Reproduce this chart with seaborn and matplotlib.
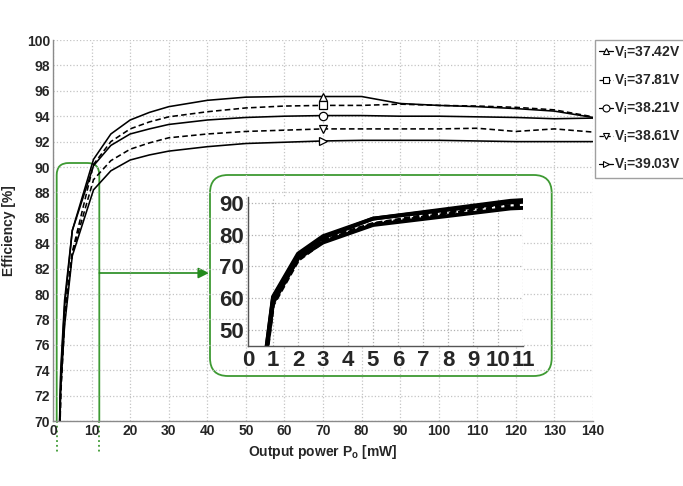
import numpy as np
import pandas as pd
import seaborn as sns
import matplotlib
matplotlib.use("Agg")
import matplotlib.pyplot as plt
from matplotlib.lines import Line2D
from matplotlib.patches import FancyBboxPatch, Rectangle

# ---------------- data ----------------
power_mw = [0.5, 1, 2, 3, 5, 10.5, 15, 20, 25, 30, 40, 50, 60, 70, 80, 90, 100, 110, 120, 130, 140]
eff_3742 = [30, 60.5, 74, 79.5, 85, 90.6, 92.6, 93.7, 94.3, 94.75, 95.25, 95.5, 95.55, 95.55, 95.55, 95.0, 94.85, 94.75, 94.6, 94.4, 93.9]
eff_3781 = [29, 59, 72.5, 78.5, 83.3, 90.2, 92.0, 93.0, 93.55, 93.95, 94.35, 94.65, 94.8, 94.85, 94.85, 94.95, 94.85, 94.8, 94.7, 94.5, 93.95]
eff_3821 = [30, 60, 73.5, 79, 85, 90.1, 91.7, 92.6, 93.0, 93.35, 93.7, 93.9, 94.0, 94.05, 94.05, 94.0, 94.0, 93.95, 93.9, 93.8, 93.85]
eff_3861 = [28, 58, 72, 77.8, 83.2, 89.0, 90.5, 91.4, 91.9, 92.3, 92.6, 92.8, 92.9, 93.0, 93.0, 93.0, 93.0, 93.05, 92.8, 93.0, 92.75]
eff_3903 = [29, 58.5, 72.5, 77.5, 83, 88.2, 89.7, 90.55, 90.95, 91.25, 91.6, 91.85, 91.95, 92.05, 92.1, 92.1, 92.1, 92.05, 92.0, 92.0, 92.0]
input_voltages = ["37.42", "37.81", "38.21", "38.61", "39.03"]
marker_power = 70
main_xticks = list(range(0, 141, 10))
main_yticks = list(range(70, 101, 2))
inset_xticks = list(range(0, 12))
inset_yticks = [50, 60, 70, 80, 90]

# ---------------- styles ----------------
series_eff = [eff_3742, eff_3781, eff_3821, eff_3861, eff_3903]
line_styles = ["-", (0, (3.5, 2)), "-", (0, (3.5, 2)), "-"]
inset_styles = ["-", (0, (1.6, 0.8)), "-", (0, (1.6, 0.8)), "-"]
marker_shapes = ["^", "s", "o", "v", ">"]
green = "#3e9a33"
arrow_green = "#238a1c"

df = pd.DataFrame({
    "P": power_mw * len(input_voltages),
    "eff": np.concatenate(series_eff),
    "Vi": np.repeat(input_voltages, len(power_mw)),
})

sns.set_theme(style="white")
plt.rcParams["font.family"] = ["Liberation Sans", "DejaVu Sans"]
plt.rcParams["font.weight"] = "bold"
plt.rcParams["mathtext.fontset"] = "custom"
plt.rcParams["mathtext.rm"] = "Liberation Sans:bold"
plt.rcParams["mathtext.it"] = "Liberation Sans:bold"
plt.rcParams["mathtext.bf"] = "Liberation Sans:bold"

W, H = 683, 486
fig = plt.figure(figsize=(W / 100, H / 100), dpi=100, facecolor="white")

# overlay (pixel coordinates) for the zoom annotations
ov = fig.add_axes([0, 0, 1, 1], zorder=0)
ov.set_xlim(0, W)
ov.set_ylim(H, 0)
ov.axis("off")

# main axes
ax = fig.add_axes([53 / W, 1 - 421 / H, 540 / W, 381 / H], zorder=1)
ax.patch.set_alpha(0)
idx_mark = power_mw.index(marker_power)
for i, v in enumerate(input_voltages):
    sub = df[df["Vi"] == v]
    sns.lineplot(data=sub, x="P", y="eff", ax=ax, color="black", lw=1.15,
                 linestyle=line_styles[i], marker=marker_shapes[i], markevery=[idx_mark],
                 markersize=6, mfc="white", mec="black", mew=0.9,
                 estimator=None, sort=False, legend=False)
ax.set_xlim(0, 140)
ax.set_ylim(70, 100)
ax.set_xticks(main_xticks)
ax.set_yticks(main_yticks)
ax.grid(True, color="#c4c4c4", ls=":", lw=0.9)
for s in ["top", "right"]:
    ax.spines[s].set_visible(False)
for s in ["left", "bottom"]:
    ax.spines[s].set_color("#8a8a8a")
    ax.spines[s].set_linewidth(1.0)
ax.tick_params(axis="both", direction="in", length=3, color="#8a8a8a", labelsize=10, pad=2)
for lab in ax.get_xticklabels() + ax.get_yticklabels():
    lab.set_fontweight("bold")
ax.set_xlabel(r"Output power P$_{o}$ [mW]", fontsize=10, fontweight="bold")
ax.set_ylabel("Efficiency [%]", fontsize=10, fontweight="bold")
ax.xaxis.set_label_coords(0.5, -0.058)
ax.yaxis.set_label_coords(-0.068, 0.5)

# zoom indicator on main plot
zoom_rect = FancyBboxPatch((56.7, 163), 42.6, 437, boxstyle="round,pad=0,rounding_size=12",
                           fc="none", ec=green, lw=1.3)
ov.add_patch(zoom_rect)
zoom_rect.set_clip_path(Rectangle((0, 0), W, 421, transform=ov.transData))
ov.plot([56.7, 56.7], [421, 453], ls=":", color=green, lw=1.3)
ov.plot([99.3, 99.3], [421, 453], ls=":", color=green, lw=1.3)
ov.annotate("", xy=(209, 273), xytext=(99.3, 273),
            arrowprops=dict(arrowstyle="-|>", color=arrow_green, lw=1.2,
                            mutation_scale=16, shrinkA=0, shrinkB=0))
inset_box = FancyBboxPatch((210, 175), 341.7, 201, boxstyle="round,pad=0,rounding_size=18",
                           fc="none", ec=green, lw=1.3)
ov.add_patch(inset_box)

# inset axes
axi = fig.add_axes([248 / W, 1 - 346 / H, 275 / W, 148.7 / H], zorder=2)
axi.set_facecolor("white")
for i, v in enumerate(input_voltages):
    sub = df[df["Vi"] == v]
    sns.lineplot(data=sub, x="P", y="eff", ax=axi, color="black", lw=2.8,
                 linestyle=inset_styles[i], estimator=None, sort=False, legend=False)
axi.set_xlim(0, 11)
axi.set_ylim(45, 91.7)
axi.set_xticks(inset_xticks)
axi.set_yticks(inset_yticks)
axi.grid(True, color="#b0b0b0", ls=":", lw=0.9)
for s in ["top", "right"]:
    axi.spines[s].set_visible(False)
for s in ["left", "bottom"]:
    axi.spines[s].set_color("#555555")
    axi.spines[s].set_linewidth(1.0)
axi.tick_params(axis="both", length=0, labelsize=16, pad=3)
for lab in axi.get_xticklabels() + axi.get_yticklabels():
    lab.set_fontweight("bold")
axi.set_xlabel("")
axi.set_ylabel("")

# legend
handles = [Line2D([], [], color="black", lw=0.9, linestyle=line_styles[i], marker=marker_shapes[i],
                  ms=5, mfc="white", mec="black", mew=0.8) for i in range(len(input_voltages))]
labels = [r"V$_{i}$=" + v + "V" for v in input_voltages]
leg = fig.legend(handles, labels, loc="upper left", bbox_to_anchor=(595 / W, 1 - 40 / H),
                 frameon=True, fancybox=False, edgecolor="#888888", fontsize=10,
                 handlelength=1.0, handletextpad=0.1, labelspacing=0.85,
                 borderpad=0.3, borderaxespad=0)
leg.get_frame().set_linewidth(1.0)
for t in leg.get_texts():
    t.set_fontweight("bold")

fig.savefig("out.png", dpi=100)
